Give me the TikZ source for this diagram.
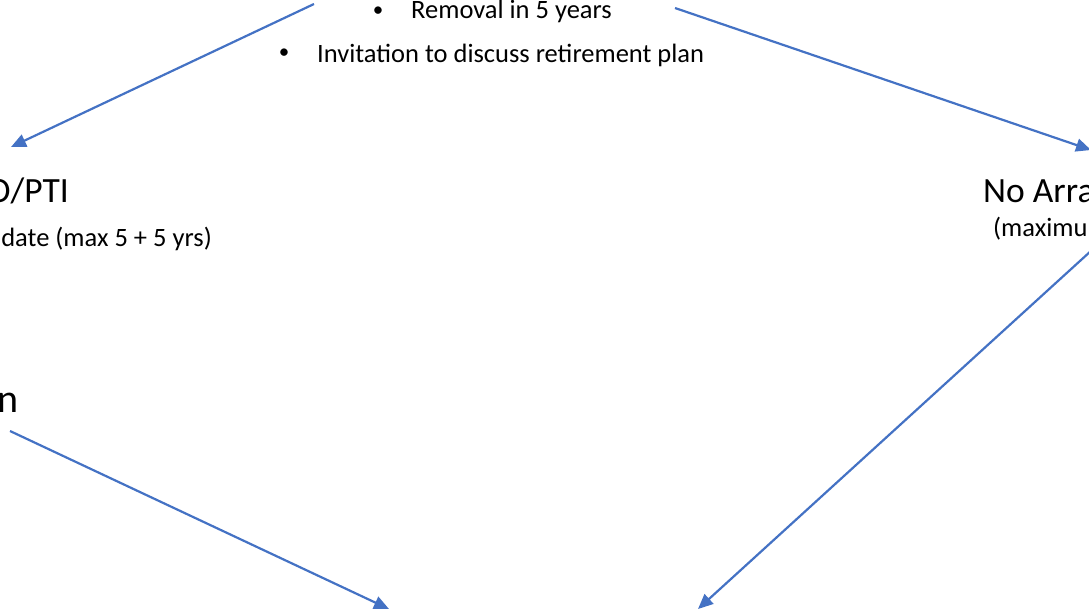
\documentclass[tikz,border=0pt]{standalone}
\usepackage{fontspec}
\setmainfont{Carlito}
\usetikzlibrary{arrows.meta}
\definecolor{arrowblue}{HTML}{4472C4}
\tikzset{
  conn/.style={draw=arrowblue, line width=2.2pt, -{Triangle[length=15pt,width=13pt]}},
  small/.style={inner sep=0pt, font=\fontsize{26.5}{32}\selectfont},
  big/.style={inner sep=0pt, font=\fontsize{35.5}{42}\selectfont},
  huge/.style={inner sep=0pt, font=\fontsize{40}{48}\selectfont},
  dot/.style={inner sep=0pt, font=\fontsize{21}{26}\selectfont},
}
\begin{document}
\begin{tikzpicture}[x=1pt,y=-1pt]
\useasboundingbox (0,0) rectangle (1089,613);
\clip (0,0) rectangle (1089,613);
% top bullets
\node[dot, anchor=center] (b1) at (378,12) {•};
\node[small, anchor=base west] (t1) at (411,18) {Removal in 5 years};
\node[dot, anchor=center] (b2) at (284,54) {•};
\node[small, anchor=base west] (t2) at (317,62) {Invitation to discuss retirement plan};
% left texts
\node[big, anchor=base east] (lt) at (69,202) {O/PTI};
\node[small, anchor=base east] (ls) at (212,246) {date (max 5 + 5 yrs)};
\node[huge, anchor=base east] (ln) at (19,412) {n};
% right texts
\node[big, anchor=base west] (rt) at (983,202) {No Arrangement};
\node[small, anchor=base west] (rs) at (993,236) {(maximum};
% connector ends
\coordinate (s1) at (314,4);
\coordinate (e1) at (11,147);
\coordinate (s2) at (675,8);
\coordinate (e2) at (1091,150);
\coordinate (s3) at (10,431);
\coordinate (e3) at (389,609);
\coordinate (s4) at (1092,250);
\coordinate (e4) at (698,609);
\draw[conn] (s1) -- (e1);
\draw[conn] (s2) -- (e2);
\draw[conn] (s3) -- (e3);
\draw[conn] (s4) -- (e4);
\end{tikzpicture}
\end{document}
